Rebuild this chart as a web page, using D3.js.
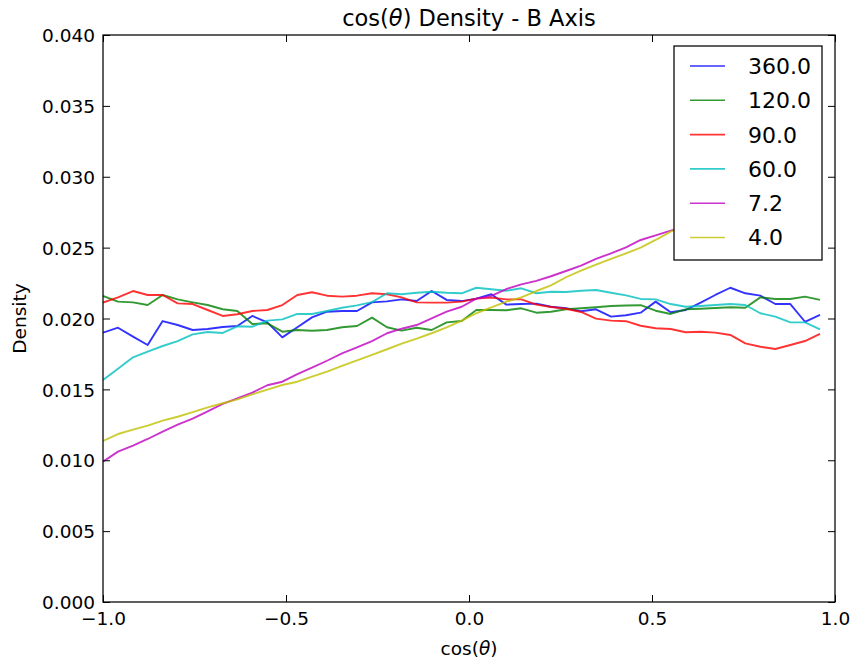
<!DOCTYPE html>
<html>
<head>
<meta charset="utf-8">
<script src="https://cdn.jsdelivr.net/npm/d3@7"></script>
<style>
    body { margin: 0; background: #fff; }
    svg text { font-family: "DejaVu Sans", sans-serif; fill: #000; }
</style>
</head>
<body>
<svg id="chart"></svg>
<script>
// bin left edges of cos(theta), 49 bins between -1 and 1
const cosTheta = [-1.000, -0.959, -0.918, -0.878, -0.837, -0.796, -0.755, -0.714, -0.673, -0.633,
    -0.592, -0.551, -0.510, -0.469, -0.429, -0.388, -0.347, -0.306, -0.265, -0.224,
    -0.184, -0.143, -0.102, -0.061, -0.020, 0.020, 0.061, 0.102, 0.143, 0.184,
    0.224, 0.265, 0.306, 0.347, 0.388, 0.429, 0.469, 0.510, 0.551, 0.592,
    0.633, 0.673, 0.714, 0.755, 0.796, 0.837, 0.878, 0.918, 0.959];

const density360 = [0.01900, 0.01935, 0.01872, 0.01813, 0.01982, 0.01954, 0.01919, 0.01926, 0.01940, 0.01947,
    0.02018, 0.01973, 0.01867, 0.01938, 0.02008, 0.02048, 0.02053, 0.02053, 0.02114, 0.02121,
    0.02135, 0.02123, 0.02194, 0.02131, 0.02123, 0.02140, 0.02171, 0.02098, 0.02102, 0.02105,
    0.02083, 0.02072, 0.02051, 0.02065, 0.02013, 0.02023, 0.02041, 0.02119, 0.02044, 0.02060,
    0.02112, 0.02166, 0.02217, 0.02178, 0.02161, 0.02102, 0.02102, 0.01977, 0.02025];
const density120 = [0.02159, 0.02119, 0.02114, 0.02095, 0.02166, 0.02135, 0.02114, 0.02095, 0.02065, 0.02053,
    0.01961, 0.01966, 0.01907, 0.01919, 0.01914, 0.01919, 0.01938, 0.01947, 0.02006, 0.01938,
    0.01914, 0.01935, 0.01919, 0.01973, 0.01982, 0.02060, 0.02060, 0.02058, 0.02072, 0.02041,
    0.02048, 0.02065, 0.02072, 0.02079, 0.02088, 0.02092, 0.02094, 0.02055, 0.02032, 0.02065,
    0.02069, 0.02074, 0.02079, 0.02076, 0.02149, 0.02138, 0.02138, 0.02154, 0.02131];
const density90 = [0.02112, 0.02149, 0.02194, 0.02166, 0.02166, 0.02107, 0.02102, 0.02060, 0.02018, 0.02030,
    0.02053, 0.02060, 0.02095, 0.02166, 0.02185, 0.02161, 0.02154, 0.02161, 0.02178, 0.02171,
    0.02149, 0.02114, 0.02112, 0.02112, 0.02119, 0.02140, 0.02147, 0.02135, 0.02135, 0.02098,
    0.02081, 0.02069, 0.02046, 0.01999, 0.01985, 0.01981, 0.01949, 0.01931, 0.01926, 0.01903,
    0.01907, 0.01900, 0.01884, 0.01825, 0.01801, 0.01785, 0.01813, 0.01841, 0.01891];
const density60 = [0.01566, 0.01646, 0.01726, 0.01766, 0.01806, 0.01841, 0.01888, 0.01905, 0.01898, 0.01945,
    0.01942, 0.01985, 0.01994, 0.02032, 0.02032, 0.02053, 0.02076, 0.02093, 0.02116, 0.02178,
    0.02171, 0.02182, 0.02189, 0.02182, 0.02178, 0.02217, 0.02206, 0.02196, 0.02213, 0.02178,
    0.02189, 0.02187, 0.02196, 0.02201, 0.02182, 0.02163, 0.02138, 0.02135, 0.02102, 0.02083,
    0.02088, 0.02095, 0.02102, 0.02095, 0.02037, 0.02013, 0.01973, 0.01973, 0.01924];
const density7 = [0.00990, 0.01061, 0.01103, 0.01150, 0.01202, 0.01251, 0.01293, 0.01345, 0.01397, 0.01437,
    0.01477, 0.01529, 0.01554, 0.01608, 0.01653, 0.01702, 0.01754, 0.01797, 0.01841, 0.01896,
    0.01928, 0.01954, 0.02001, 0.02048, 0.02083, 0.02140, 0.02159, 0.02208, 0.02241, 0.02265,
    0.02298, 0.02335, 0.02373, 0.02420, 0.02460, 0.02502, 0.02554, 0.02587, 0.02620, 0.02650,
    0.02690, 0.02730, 0.02770, 0.02810, 0.02850, 0.02890, 0.02930, 0.02970, 0.03010];
const density4 = [0.01136, 0.01185, 0.01216, 0.01244, 0.01279, 0.01307, 0.01340, 0.01373, 0.01402, 0.01430,
    0.01465, 0.01498, 0.01531, 0.01554, 0.01590, 0.01625, 0.01665, 0.01705, 0.01743, 0.01783,
    0.01823, 0.01858, 0.01896, 0.01938, 0.01985, 0.02037, 0.02079, 0.02119, 0.02149, 0.02194,
    0.02234, 0.02291, 0.02337, 0.02380, 0.02420, 0.02460, 0.02500, 0.02554, 0.02613, 0.02660,
    0.02710, 0.02760, 0.02810, 0.02860, 0.02910, 0.02960, 0.03010, 0.03060, 0.03110];

const seriesNames = ["360.0", "120.0", "90.0", "60.0", "7.2", "4.0"];
const seriesValues = [density360, density120, density90, density60, density7, density4];
const seriesColors = ["#0000ff", "#008000", "#ff0000", "#00bfbf", "#bf00bf", "#bfbf00"];

const xTicks = [-1.0, -0.5, 0.0, 0.5, 1.0];
const yTicks = [0.000, 0.005, 0.010, 0.015, 0.020, 0.025, 0.030, 0.035, 0.040];

class DensityChart{
    margin = {
        top: 35, right: 19, bottom: 59, left: 103
    }
    tickLength = 7
    fontSize = 18.5
    lineStroke = 1.9
    legendBox = {
        x: 674, y: 46, width: 148, height: 214, rowHeight: 34.3
    }

    constructor(svg, width=854, height=661){
        this.svg = svg;
        this.width = width;
        this.height = height;
    }

    initialize(){
        this.svg = d3.select(this.svg)
            .attr("width", this.width)
            .attr("height", this.height);
        this.innerWidth = this.width - this.margin.left - this.margin.right;
        this.innerHeight = this.height - this.margin.top - this.margin.bottom;

        this.svg.append("defs").append("clipPath")
            .attr("id", "plot-clip")
            .append("rect")
            .attr("width", this.innerWidth)
            .attr("height", this.innerHeight);

        this.container = this.svg.append("g")
            .attr("transform", `translate(${this.margin.left}, ${this.margin.top})`);

        this.xScale = d3.scaleLinear().domain([-1, 1]).range([0, this.innerWidth]);
        this.yScale = d3.scaleLinear().domain([0, 0.04]).range([this.innerHeight, 0]);
    }

    update(){
        const fmtX = d => d3.format(".1f")(d).replace("-", "\u2212");
        const fmtY = d3.format(".3f");

        // lines
        const line = d3.line()
            .x((d, i) => this.xScale(cosTheta[i]))
            .y(d => this.yScale(d));

        this.container.append("g")
            .attr("clip-path", "url(#plot-clip)")
            .selectAll("path")
            .data(seriesValues)
            .join("path")
            .attr("d", d => line(d))
            .attr("fill", "none")
            .attr("stroke", (d, i) => seriesColors[i])
            .attr("stroke-opacity", 0.8)
            .attr("stroke-width", this.lineStroke)
            .attr("stroke-linejoin", "round");

        // axes, ticks pointing inward on all four sides
        const bottom = this.container.append("g")
            .attr("transform", `translate(0, ${this.innerHeight})`)
            .call(d3.axisBottom(this.xScale).tickValues(xTicks).tickFormat(fmtX)
                .tickSizeInner(-this.tickLength).tickSizeOuter(0).tickPadding(10));
        const left = this.container.append("g")
            .call(d3.axisLeft(this.yScale).tickValues(yTicks).tickFormat(fmtY)
                .tickSizeInner(-this.tickLength).tickSizeOuter(0).tickPadding(8));
        const top = this.container.append("g")
            .call(d3.axisTop(this.xScale).tickValues(xTicks).tickFormat("")
                .tickSizeInner(-this.tickLength).tickSizeOuter(0));
        const right = this.container.append("g")
            .attr("transform", `translate(${this.innerWidth}, 0)`)
            .call(d3.axisRight(this.yScale).tickValues(yTicks).tickFormat("")
                .tickSizeInner(-this.tickLength).tickSizeOuter(0));

        [bottom, left, top, right].forEach(a => {
            a.select(".domain").remove();
            a.selectAll("line").attr("stroke", "#000").attr("stroke-width", 1);
            a.selectAll("text")
                .style("font-family", "DejaVu Sans")
                .style("font-size", `${this.fontSize}px`)
                .attr("fill", "#000");
        });
        left.selectAll("text").attr("dy", "0.36em");

        this.container.append("rect")
            .attr("width", this.innerWidth)
            .attr("height", this.innerHeight)
            .attr("fill", "none")
            .attr("stroke", "#000")
            .attr("stroke-width", 1.25);

        // title and axis labels
        const title = this.svg.append("text")
            .attr("x", this.margin.left + this.innerWidth / 2)
            .attr("y", 26)
            .attr("text-anchor", "middle")
            .style("font-size", "22.5px");
        title.append("tspan").text("cos(");
        title.append("tspan").attr("font-style", "italic").text("\u03b8");
        title.append("tspan").text(") Density - B Axis");

        const xLabel = this.svg.append("text")
            .attr("x", this.margin.left + this.innerWidth / 2)
            .attr("y", 655)
            .attr("text-anchor", "middle")
            .style("font-size", `${this.fontSize}px`);
        xLabel.append("tspan").text("cos(");
        xLabel.append("tspan").attr("font-style", "italic").text("\u03b8");
        xLabel.append("tspan").text(")");

        this.svg.append("text")
            .attr("transform", `translate(26, ${this.margin.top + this.innerHeight / 2}) rotate(-90)`)
            .attr("text-anchor", "middle")
            .style("font-size", `${this.fontSize}px`)
            .text("Density");

        // legend
        const lb = this.legendBox;
        this.legend = this.svg.append("g");
        this.legend.append("rect")
            .attr("x", lb.x)
            .attr("y", lb.y)
            .attr("width", lb.width)
            .attr("height", lb.height)
            .attr("fill", "#fff")
            .attr("stroke", "#000")
            .attr("stroke-width", 1.25);

        const rows = this.legend.selectAll("g.row")
            .data(seriesNames)
            .join("g")
            .attr("class", "row")
            .attr("transform", (d, i) => `translate(${lb.x}, ${lb.y + 20 + i * lb.rowHeight})`);
        rows.append("line")
            .attr("x1", 16)
            .attr("x2", 51)
            .attr("stroke", (d, i) => seriesColors[i])
            .attr("stroke-opacity", 0.8)
            .attr("stroke-width", 1.6);
        rows.append("text")
            .attr("x", 74)
            .attr("dy", "0.36em")
            .style("font-size", "22px")
            .text(d => d);
    }
}

const chart = new DensityChart("#chart");
chart.initialize();
chart.update();
</script>
</body>
</html>
